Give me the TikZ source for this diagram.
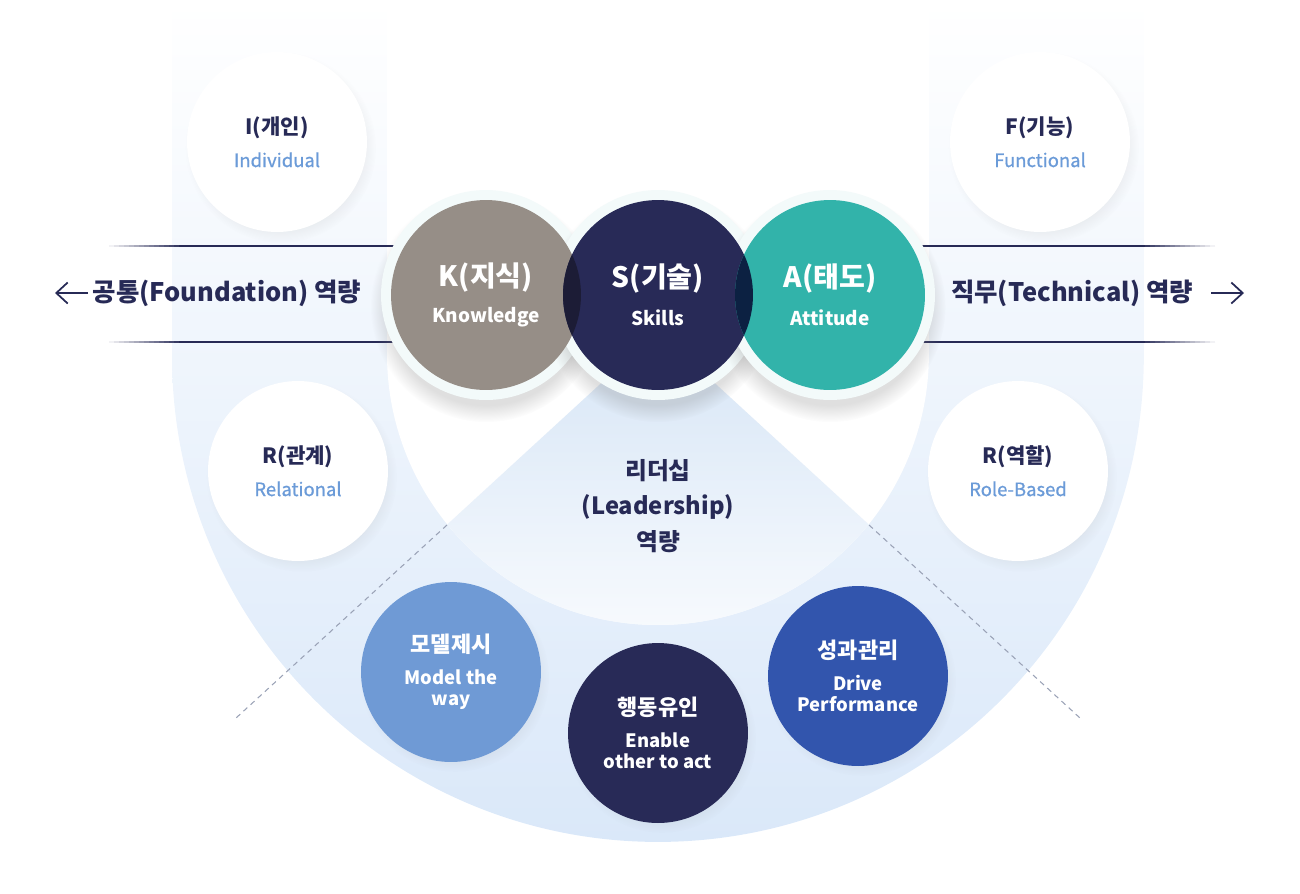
\documentclass[tikz,border=0pt]{standalone}
\usepackage{fontspec}
\setmainfont{Noto Sans CJK KR}
\newfontfamily\medfam{Noto Sans CJK KR}[FakeBold=0.8]
\usetikzlibrary{shadows,arrows.meta}

\definecolor{navyc}{HTML}{272A56}
\definecolor{subc}{HTML}{6B9BD8}
\definecolor{bandmid}{HTML}{EEF5FD}
\definecolor{bandbot}{HTML}{DAE8F9}
\definecolor{wedgec}{HTML}{D6E5F6}
\definecolor{ringcol}{HTML}{F3FAFA}
\definecolor{kcol}{HTML}{968E87}
\definecolor{scol}{HTML}{282A57}
\definecolor{acol}{HTML}{32B3AA}
\definecolor{kslens}{HTML}{1C1C36}
\definecolor{salens}{HTML}{0C2142}
\definecolor{modelc}{HTML}{6F9AD5}
\definecolor{enablec}{HTML}{282A57}
\definecolor{drivec}{HTML}{3255AD}
\definecolor{dotc}{HTML}{9AA2B6}

\newcommand\sidefont{\bfseries\fontsize{14.5}{17}\selectfont}
\newcommand\kttlfont{\bfseries\fontsize{16}{19}\selectfont}
\newcommand\ksubfont{\bfseries\fontsize{10.8}{13}\selectfont}
\newcommand\sttlfont{\bfseries\fontsize{12}{14}\selectfont}
\newcommand\ssubfont{\medfam\fontsize{10.5}{12.6}\selectfont}
\newcommand\bttlfont{\bfseries\fontsize{12.5}{15}\selectfont}
\newcommand\bsubfont{\bfseries\fontsize{10.5}{12.5}\selectfont}
\newcommand\leadfont{\bfseries\fontsize{13.5}{20}\selectfont}

\begin{document}
\begin{tikzpicture}[x=0.02cm, y=-0.02cm,
  smallc/.style={circle, fill=white, minimum size=3.6cm, align=center, text=navyc,
    circular drop shadow={shadow xshift=2pt, shadow yshift=-3pt, opacity=0.10, shadow scale=1.06}},
  ringc/.style={circle, fill=ringcol, minimum size=4.2cm,
    circular drop shadow={shadow xshift=0pt, shadow yshift=-6pt, opacity=0.25, shadow scale=1.1}},
  ksac/.style={circle, minimum size=3.8cm, align=center, text=white},
  botc/.style={circle, minimum size=3.6cm, align=center, text=white,
    circular drop shadow={shadow xshift=2pt, shadow yshift=-3pt, opacity=0.10, shadow scale=1.05}},
  side/.style={text=navyc, font=\sidefont},
  arr/.style={line width=1pt, draw=navyc, -{Straight Barb[length=6.5pt,width=12pt]}},
  dotted line/.style={line width=0.6pt, draw=dotc, dash pattern=on 3pt off 2.5pt}]
\path[use as bounding box] (0,0) rectangle (1300,893);

% outer band and inner area
\shade[top color=white, middle color=bandmid, bottom color=bandbot] (172,0) -- (172,356) arc (180:360:9.72cm) -- (1144,0) -- cycle;
\fill[white] (387,0) -- (387,354) arc (180:360:5.42cm) -- (929,0) -- cycle;
\begin{scope}
\clip (387,0) -- (387,354) arc (180:360:5.42cm) -- (929,0) -- cycle;
\shade[top color=wedgec, bottom color=white] (658,331) -- (256,700) -- (1060,700) -- cycle;
\end{scope}

% dotted guide lines
\coordinate (dl1) at (447,525);
\coordinate (dl2) at (236,718);
\coordinate (dr1) at (869,525);
\coordinate (dr2) at (1080,718);
\draw[dotted line] (dl1) -- (dl2);
\draw[dotted line] (dr1) -- (dr2);

% horizontal lines, faded at the outer ends
\foreach \yy in {246,342} {
  \foreach \i [evaluate=\i as \p using int(\i*100/15)] in {0,...,15} {
    \draw[line width=0.7pt, navyc!\p] (104+\i*5,\yy) -- (109+\i*5,\yy);
    \draw[line width=0.7pt, navyc!\p] (1220-\i*5,\yy) -- (1215-\i*5,\yy);
  }
  \draw[line width=0.7pt, navyc] (184,\yy) -- (400,\yy);
  \draw[line width=0.7pt, navyc] (916,\yy) -- (1140,\yy);
}

% side labels
\node[side] (found) at (227,293) {공통(Foundation) 역량};
\node[side] (tech) at (1072,293) {직무(Technical) 역량};
\coordinate (la1) at (88,293);
\coordinate (la2) at (55,293);
\coordinate (ra1) at (1211,293);
\coordinate (ra2) at (1244,293);
\draw[arr] (la1) -- (la2);
\draw[arr] (ra1) -- (ra2);

% small white circles
\node[smallc] (indiv) at (277,142) {\sttlfont I(개인)\\[6.5pt]\color{subc}\ssubfont Individual};
\node[smallc] (func) at (1040,142) {\sttlfont F(기능)\\[6.5pt]\color{subc}\ssubfont Functional};
\node[smallc] (rel) at (298,471) {\sttlfont R(관계)\\[6.5pt]\color{subc}\ssubfont Relational};
\node[smallc] (role) at (1018,471) {\sttlfont R(역할)\\[6.5pt]\color{subc}\ssubfont Role-Based};

% K S A
\node[ringc] (kr) at (486,295) {};
\node[ringc] (sr) at (658,295) {};
\node[ringc] (ar) at (830,295) {};
\node[ksac, fill=kcol] (k) at (486,295) {\kttlfont K(지식)\\[8.5pt]\ksubfont Knowledge};
\node[ksac, fill=scol] (s) at (658,295) {\kttlfont S(기술)\\[8.5pt]\ksubfont Skills};
\node[ksac, fill=acol] (a) at (830,295) {\kttlfont A(태도)\\[8.5pt]\ksubfont Attitude};
\begin{scope}
\clip (k.center) circle (1.9cm);
\fill[kslens] (s.center) circle (1.9cm);
\end{scope}
\begin{scope}
\clip (a.center) circle (1.9cm);
\fill[salens] (s.center) circle (1.9cm);
\end{scope}

% leadership
\node[text=navyc, align=center, font=\leadfont] (lead) at (658,506) {리더십\\(Leadership)\\역량};

% bottom circles
\node[botc, fill=modelc] (model) at (451,672) {\bttlfont 모델제시\\[6pt]\bsubfont Model the\\\bsubfont way};
\node[botc, fill=enablec] (enable) at (658,733) {\bttlfont 행동유인\\[6pt]\bsubfont Enable\\\bsubfont other to act};
\node[botc, fill=drivec] (drive) at (858,676) {\bttlfont 성과관리\\[6pt]\bsubfont Drive\\\bsubfont Performance};
\end{tikzpicture}
\end{document}
